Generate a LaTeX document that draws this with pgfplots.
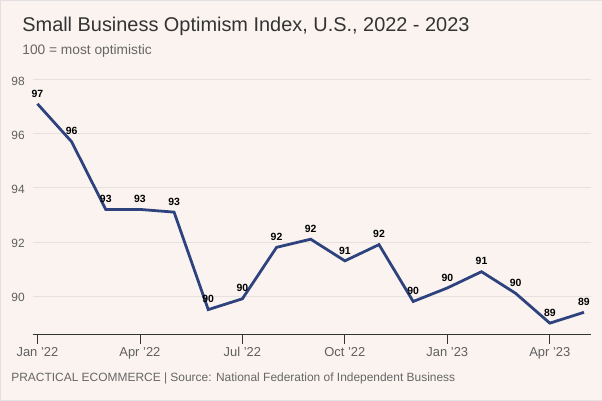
\documentclass[border=0pt]{standalone}
\usepackage{pgfplots}
\pgfplotsset{compat=1.18}
\usepackage{pgfplotstable}
\usepackage{fontspec}
\setmainfont{Liberation Sans}
\definecolor{bg}{HTML}{FAF3F0}
\definecolor{bordergray}{HTML}{E2E0E0}
\definecolor{titlecol}{HTML}{333333}
\definecolor{subcol}{HTML}{666666}
\definecolor{tickcol}{HTML}{5F5F5F}
\definecolor{gridcol}{HTML}{E6E1DF}
\definecolor{linecol}{HTML}{2E437E}
\pgfplotstableread{
x y l
0 97.1 97
1 95.7 96
2 93.2 93
3 93.2 93
4 93.1 93
5 89.5 90
6 89.9 90
7 91.8 92
8 92.1 92
9 91.3 91
10 91.9 92
11 89.8 90
12 90.3 90
13 90.9 91
14 90.1 90
15 89.0 89
16 89.4 89
}\datatable
\begin{document}
\begin{tikzpicture}
\path[use as bounding box, fill=bg, draw=bordergray] (0,0) rectangle (602bp,400bp);
\node[anchor=base west, inner sep=0, text=titlecol, font=\fontsize{20}{24}\selectfont] at (22bp,368.3bp) {Small Business Optimism Index, U.S., 2022 - 2023};
\node[anchor=base west, inner sep=0, text=subcol, font=\fontsize{13.8}{16}\selectfont] at (22bp,346bp) {100 = most optimistic};
\node[anchor=base west, inner sep=0, text=subcol, font=\fontsize{12}{14}\selectfont] at (11bp,18bp) {PRACTICAL ECOMMERCE | Source: National Federation of Independent Business};
\begin{axis}[
  at={(33bp,66bp)}, anchor=south west,
  scale only axis, width=558bp, height=254.7bp,
  xmin=-0.125, xmax=16.2, ymin=88.6, ymax=98,
  axis x line*=bottom, axis y line*=left,
  y axis line style={draw=none},
  x axis line style={draw=titlecol, line width=0.8pt},
  xtick={0,3,6,9,12,15},
  xticklabels={Jan '22, Apr '22, Jul '22, Oct '22, Jan '23, Apr '23},
  ytick={90,92,94,96,98},
  ymajorgrids, grid style={gridcol, line width=0.7pt},
  tick align=outside,
  major tick length=10bp,
  xtick style={draw=titlecol, line width=0.8pt},
  ytick style={draw=none},
  xticklabel style={font=\fontsize{13}{15}\selectfont, text=tickcol},
  yticklabel style={font=\fontsize{12}{14}\selectfont, text=tickcol, xshift=5bp, yshift=-1.5bp},
  /pgf/number format/assume math mode=true,
  clip=false,
]
\addplot[linecol, line width=2.8pt, line join=miter,
  nodes near coords, point meta=explicit symbolic,
  every node near coord/.append style={font=\bfseries\fontsize{10.5}{12}\selectfont, text=black, yshift=2bp}]
  table[x=x, y=y, meta=l] {\datatable};
\end{axis}
\end{tikzpicture}
\end{document}
